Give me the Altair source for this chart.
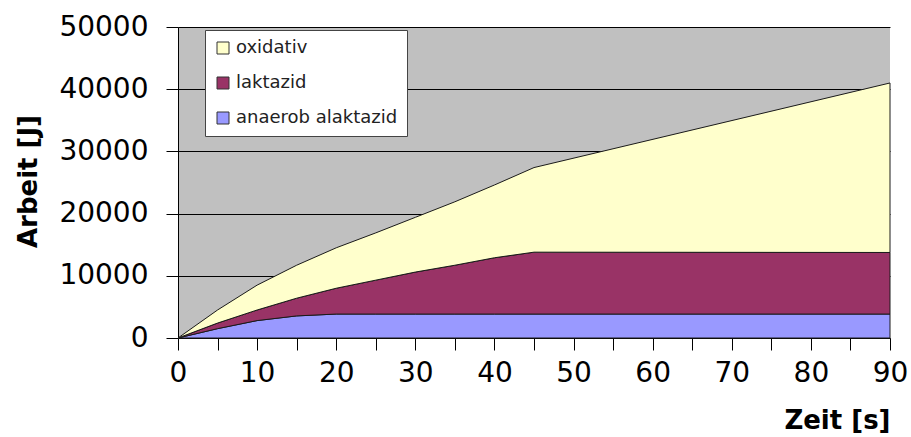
import altair as alt
import pandas as pd

# Zeit in Sekunden
zeit = [0, 5, 10, 15, 20, 25, 30, 35, 40, 45, 90]

# Arbeit je Energiebereitstellung in Joule (Anteile, gestapelt)
anaerob_alaktazid = [0, 1500, 2800, 3550, 3850, 3850, 3850, 3850, 3850, 3850, 3850]
laktazid = [0, 900, 1700, 2850, 4150, 5450, 6750, 7850, 9050, 9950, 9900]
oxidativ = [0, 2100, 4000, 5300, 6500, 7600, 8800, 10200, 11700, 13600, 27250]

serien = ["oxidativ", "laktazid", "anaerob alaktazid"]
farben = ["#FFFFCC", "#993366", "#9999FF"]
y_ticks = [0, 10000, 20000, 30000, 40000, 50000]
x_ticks = list(range(0, 95, 5))

rows = []
for name, rang, werte in [
    ("anaerob alaktazid", 0, anaerob_alaktazid),
    ("laktazid", 1, laktazid),
    ("oxidativ", 2, oxidativ),
]:
    for t, w in zip(zeit, werte):
        rows.append({"Zeit": t, "Arbeit": w, "Art": name, "rang": rang})
df = pd.DataFrame(rows)

FONT = "DejaVu Sans"

chart = (
    alt.Chart(df)
    .mark_area(stroke="#1a1a1a", strokeWidth=1, opacity=1, interpolate="linear")
    .encode(
        x=alt.X(
            "Zeit:Q",
            scale=alt.Scale(domain=[0, 90], nice=False),
            axis=alt.Axis(
                values=x_ticks,
                labelExpr="datum.value % 10 === 0 ? datum.label : ''",
                grid=False,
                tickSize=12,
                tickColor="black",
                domainColor="black",
                labelFont=FONT,
                labelFontSize=28,
                labelColor="black",
                labelPadding=9,
                labelFlush=False,
                labelOverlap=False,
                title="Zeit [s]",
                titleFont=FONT,
                titleFontSize=26,
                titleFontWeight="bold",
                titleColor="black",
                titleAlign="right",
                titleBaseline="alphabetic",
                titleX=712,
                titleY=90,
            ),
        ),
        y=alt.Y(
            "Arbeit:Q",
            stack="zero",
            scale=alt.Scale(domain=[0, 50000], nice=False),
            axis=alt.Axis(
                values=y_ticks,
                format="d",
                grid=True,
                gridColor="black",
                gridWidth=1,
                gridOpacity=1,
                tickSize=12,
                tickColor="black",
                domainColor="black",
                labelFont=FONT,
                labelFontSize=28,
                labelColor="black",
                labelPadding=18,
                labelFlush=False,
                labelOverlap=False,
                title="Arbeit [J]",
                titleFont=FONT,
                titleFontSize=26,
                titleFontWeight="bold",
                titleColor="black",
                titleAngle=270,
                titleAlign="center",
                titleBaseline="alphabetic",
                titleX=-142,
                titleY=154,
            ),
        ),
        color=alt.Color(
            "Art:N",
            scale=alt.Scale(domain=serien, range=farben),
            legend=alt.Legend(
                title=None,
                orient="none",
                legendX=27,
                legendY=3,
                fillColor="white",
                strokeColor="#444444",
                padding=9,
                rowPadding=17,
                symbolType="square",
                symbolSize=144,
                symbolStrokeColor="#333333",
                symbolStrokeWidth=1,
                symbolOpacity=1,
                labelFont=FONT,
                labelFontSize=18,
                labelColor="#222222",
                labelOffset=4,
                labelLimit=400,
            ),
        ),
        order=alt.Order("rang:Q", sort="ascending"),
    )
    .properties(
        width=712,
        height=311,
        autosize=alt.AutoSizeParams(type="none"),
        padding={"left": 178, "top": 27, "right": 21, "bottom": 99},
        background="white",
    )
    .configure_view(fill="#C0C0C0", strokeWidth=0)
)

chart.save("out.html", embed_options={"renderer": "svg", "actions": False})
